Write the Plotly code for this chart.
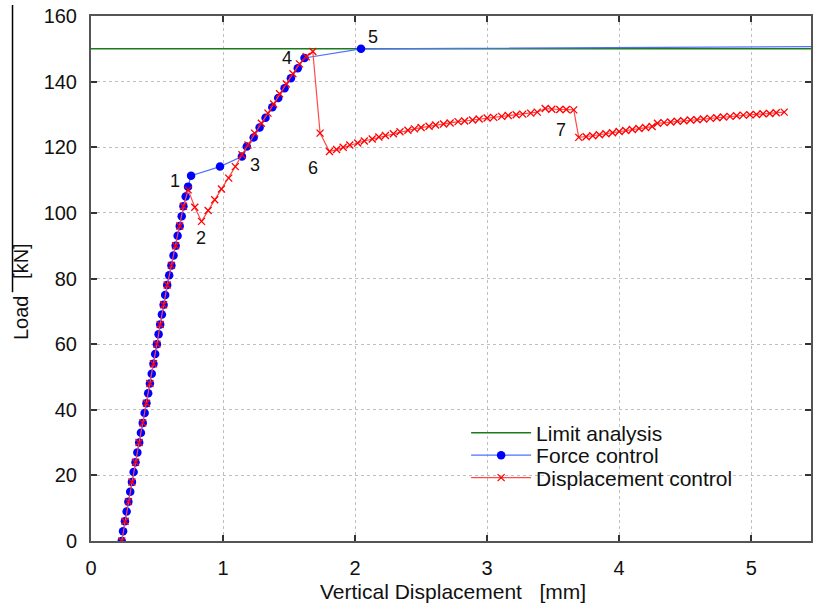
import plotly.graph_objects as go

# ---- data ----
limit_x = [0.0, 6.0]
limit_load = [150.0, 150.0]

fc_x = [0.233, 0.243, 0.257, 0.270, 0.283, 0.297, 0.310, 0.323, 0.337, 0.351,
        0.365, 0.378, 0.392, 0.406, 0.420, 0.433, 0.446, 0.460, 0.473, 0.486,
        0.499, 0.512, 0.524, 0.537, 0.550, 0.562, 0.577, 0.592, 0.609, 0.625,
        0.641, 0.656, 0.672, 0.687, 0.700, 0.717, 0.735, 0.758, 0.977, 1.143,
        1.180, 1.232, 1.277, 1.322, 1.373, 1.418, 1.466, 1.514, 1.566, 1.617,
        2.045, 6.0]
fc_y = [0, 3, 6, 9, 12, 15, 18, 21, 24, 27,
        30, 33, 36, 39, 42, 45, 48, 51, 54, 57,
        60, 63, 66, 69, 72, 75, 78, 81, 84, 87,
        90, 93, 96, 99, 102, 105, 108, 111.3, 114.1, 117.2,
        120.2, 123, 126, 129, 132.2, 135, 138, 141, 144.1, 147.2,
        150, 150.8]

dc_x = [0.233, 0.258, 0.284, 0.310, 0.337, 0.364, 0.392, 0.420, 0.446, 0.473,
        0.499, 0.524, 0.550, 0.577, 0.609, 0.641, 0.672, 0.700, 0.736, 0.786,
        0.837, 0.887, 0.937, 0.988, 1.043, 1.093, 1.143, 1.189, 1.239, 1.290,
        1.340, 1.383, 1.428, 1.479, 1.529, 1.579, 1.630, 1.680, 1.735, 1.806,
        1.86, 1.91, 1.96, 2.02, 2.07, 2.13, 2.18, 2.23, 2.29, 2.34,
        2.40, 2.45, 2.50, 2.56, 2.61, 2.67, 2.72, 2.78, 2.83, 2.89,
        2.94, 3.00, 3.05, 3.11, 3.16, 3.22, 3.27, 3.33, 3.38, 3.44,
        3.49, 3.55, 3.60, 3.656, 3.694, 3.75, 3.80, 3.85, 3.90, 3.95,
        4.00, 4.05, 4.10, 4.15, 4.20, 4.25, 4.29, 4.34, 4.39, 4.44,
        4.49, 4.54, 4.59, 4.64, 4.69, 4.74, 4.79, 4.84, 4.89, 4.94,
        4.99, 5.04, 5.09, 5.14, 5.19, 5.25]
dc_y = [0, 6, 12, 18, 24, 30, 36, 42, 48, 54,
        60, 66, 72, 78, 84, 90, 96, 102, 107, 101.7,
        97.4, 100.7, 104, 107.3, 110.6, 114.1, 117.7, 120.7, 124.3, 127.3,
        130.4, 133.2, 136.3, 139.3, 142.4, 145.4, 147.6, 149.2, 124.3, 118.7,
        119.3, 120.0, 120.7, 121.3, 121.9, 122.5, 123.1, 123.6, 124.1, 124.7,
        125.2, 125.6, 126.0, 126.4, 126.8, 127.1, 127.4, 127.8, 128.0, 128.3,
        128.6, 128.9, 129.1, 129.4, 129.7, 129.9, 130.1, 130.4, 130.7, 131.8,
        131.6, 131.5, 131.5, 131.4, 123.0, 123.2, 123.5, 123.8, 124.1, 124.4,
        124.8, 125.1, 125.4, 125.7, 126.0, 126.3, 127.3, 127.5, 127.7, 127.9,
        128.1, 128.3, 128.4, 128.6, 128.8, 129.0, 129.2, 129.4, 129.6, 129.8,
        129.9, 130.0, 130.2, 130.3, 130.5, 130.7]

point_labels = ["1", "2", "3", "4", "5", "6", "7"]
label_x = [0.635, 0.833, 1.24, 1.483, 2.137, 1.678, 3.558]
label_y = [109.8, 92.4, 114.6, 147.3, 153.7, 113.7, 125.3]

x_ticks = [0, 1, 2, 3, 4, 5]
y_ticks = [0, 20, 40, 60, 80, 100, 120, 140, 160]

FONT = "Liberation Sans, Arial, Helvetica, sans-serif"
FS = 20
FT = 21

fig = go.Figure()
fig.add_trace(go.Scatter(x=limit_x, y=limit_load, mode="lines", name="Limit analysis",
                         line=dict(color="#1b7a1b", width=1.5), legend="legend"))
fig.add_trace(go.Scatter(x=fc_x, y=fc_y, mode="lines+markers", name="Force control",
                         line=dict(color="#4f6fff", width=1.2),
                         marker=dict(symbol="circle", size=8.5, color="#0000ff"), legend="legend2"))
fig.add_trace(go.Scatter(x=dc_x, y=dc_y, mode="lines+markers", name="Displacement control",
                         line=dict(color="#ff4a4a", width=1.2),
                         marker=dict(symbol="x-thin", size=7,
                                     line=dict(width=1.3, color="#ff0000"), color="#ff0000"),
                         legend="legend3"))

for t, x, y in zip(point_labels, label_x, label_y):
    fig.add_annotation(x=x, y=y, text=t, showarrow=False,
                       font=dict(family=FONT, size=18, color="#111"))

fig.add_annotation(xref="paper", yref="paper", x=0.503, y=-0.097, text="Vertical Displacement   [mm]",
                   showarrow=False, font=dict(family=FONT, size=FT, color="#111"),
                   xanchor="center", yanchor="middle")
fig.add_annotation(xref="paper", yref="paper", x=-0.098, y=0.475, text="Load   [kN]",
                   textangle=-90, showarrow=False, font=dict(family=FONT, size=FS, color="#111"),
                   xanchor="center", yanchor="middle")

fig.add_shape(type="line", xref="paper", yref="paper", x0=-0.109, x1=-0.109, y0=1.021, y1=0.474,
              line=dict(color="#000", width=1.5))

axis_common = dict(showline=True, mirror="ticks", linecolor="#555", linewidth=2,
                   ticks="inside", ticklen=6, tickwidth=2, tickcolor="#333",
                   showgrid=True, gridcolor="#c0c0c0", griddash="dot", gridwidth=1,
                   zeroline=False, tickfont=dict(family=FONT, size=FS, color="#111"))

fig.update_xaxes(range=[0, 5.453], tickvals=x_ticks, ticklabelstandoff=8, **axis_common)
fig.update_yaxes(range=[0, 160], tickvals=y_ticks, ticklabelstandoff=8, **axis_common)

leg_common = dict(xanchor="left", yanchor="middle", bgcolor="rgba(0,0,0,0)", borderwidth=0,
                  font=dict(family=FONT, size=FT, color="#111"), itemwidth=60)
LX = 0.521
fig.update_layout(
    width=813, height=610,
    margin=dict(l=91, r=0, t=16, b=69),
    plot_bgcolor="white", paper_bgcolor="white",
    font=dict(family=FONT, size=FS, color="#111"),
    showlegend=True,
    legend=dict(x=LX, y=(541 - 433) / 525, **leg_common),
    legend2=dict(x=LX, y=(541 - 455.5) / 525, **leg_common),
    legend3=dict(x=LX, y=(541 - 478) / 525, **leg_common),
)

post = ("document.body.style.margin='0';document.body.style.padding='0';"
        "document.documentElement.style.overflow='hidden';document.body.style.overflow='hidden';"
        "Plotly.relayout(document.getElementById('{plot_id}'), {width: 813, height: 610});")
fig.write_html("out.html", post_script=post, default_width="813px", default_height="610px",
               config={"displayModeBar": False})
